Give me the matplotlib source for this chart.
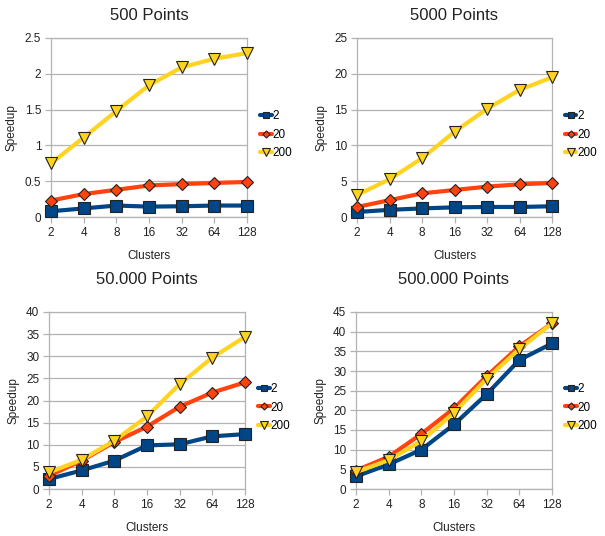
import matplotlib
matplotlib.use("Agg")
import matplotlib.pyplot as plt

plt.rcParams['font.family'] = ['Liberation Sans', 'DejaVu Sans']

clusters = ["2", "4", "8", "16", "32", "64", "128"]
series_names = ["2", "20", "200"]

titles = ["500 Points", "5000 Points", "50.000 Points", "500.000 Points"]

p500_s2 = [0.08, 0.12, 0.16, 0.145, 0.15, 0.16, 0.16]
p500_s20 = [0.23, 0.32, 0.38, 0.44, 0.46, 0.475, 0.49]
p500_s200 = [0.75, 1.11, 1.48, 1.84, 2.09, 2.21, 2.29]

p5000_s2 = [0.7, 1.0, 1.2, 1.35, 1.4, 1.4, 1.5]
p5000_s20 = [1.4, 2.35, 3.3, 3.77, 4.24, 4.57, 4.75]
p5000_s200 = [3.06, 5.27, 8.2, 11.9, 15.1, 17.75, 19.5]

p50k_s2 = [2.25, 4.2, 6.4, 9.85, 10.1, 11.9, 12.4]
p50k_s20 = [3.0, 6.4, 10.6, 14.1, 18.6, 21.8, 24.1]
p50k_s200 = [3.75, 6.6, 10.9, 16.4, 23.7, 29.7, 34.4]

p500k_s2 = [3.2, 6.25, 10.0, 16.4, 24.1, 32.8, 37.0]
p500k_s20 = [4.7, 8.2, 14.0, 20.5, 28.7, 36.3, 42.1]
p500k_s200 = [4.3, 7.35, 12.2, 19.4, 28.0, 35.6, 42.1]

data = [
    [p500_s2, p500_s20, p500_s200],
    [p5000_s2, p5000_s20, p5000_s200],
    [p50k_s2, p50k_s20, p50k_s200],
    [p500k_s2, p500k_s20, p500k_s200],
]
ylims = [(0, 2.5, 0.5), (0, 25, 5), (0, 40, 5), (0, 45, 5)]

colors = ["#004586", "#ff420e", "#ffd320"]
markers = ["s", "D", "v"]
msizes = [8, 6, 9]

W, H = 605, 536
fig = plt.figure(figsize=(W / 100, H / 100), dpi=100)

# pixel boxes: left, right, top, bottom
boxes = [(51, 247, 38, 217), (357, 552, 38, 217),
         (49, 245, 312, 489), (356, 552, 312, 489)]
title_pads = [13, 13, 20, 20]

grey = "#b3b3b3"
for i, (l, r, t, b) in enumerate(boxes):
    ax = fig.add_axes([l / W, (H - b) / H, (r - l) / W, (b - t) / H])
    x = list(range(len(clusters)))
    for j in range(3):
        ax.plot(x, data[i][j], color=colors[j], lw=3.0, marker=markers[j],
                markersize=msizes[j], markerfacecolor=colors[j],
                markeredgecolor="#222222", markeredgewidth=0.8,
                label=series_names[j], solid_capstyle='round', clip_on=False,
                zorder=3 + j)
    lo, hi, st = ylims[i]
    ax.set_ylim(lo, hi)
    ticks = []
    v = lo
    while v <= hi + 1e-9:
        ticks.append(round(v, 3))
        v += st
    ax.set_yticks(ticks)
    ax.set_yticklabels([("%g" % t) for t in ticks])
    ax.set_xlim(0, len(clusters) - 1)
    ax.set_xticks(x)
    ax.set_xticklabels(clusters)
    ax.grid(axis='y', color=grey, lw=0.9)
    ax.set_axisbelow(True)
    for s in ax.spines.values():
        s.set_color(grey)
        s.set_linewidth(0.9)
    ax.tick_params(axis='both', colors=grey, labelcolor="#222222",
                   labelsize=8.5, length=4, width=0.9, pad=3)
    ax.set_title(titles[i], fontsize=12, color="#222222", pad=title_pads[i])
    ax.set_xlabel("Clusters", fontsize=8.5, color="#222222", labelpad=8)
    ax.set_ylabel("Speedup", fontsize=8.5, color="#222222", labelpad=5)
    ax.legend(loc='center left', bbox_to_anchor=(1.065, 0.46), frameon=False,
              fontsize=8.5, handlelength=1.0, handletextpad=0.05,
              labelspacing=0.55, markerscale=0.6, borderpad=0,
              borderaxespad=0)

fig.savefig("out.png", dpi=100)
